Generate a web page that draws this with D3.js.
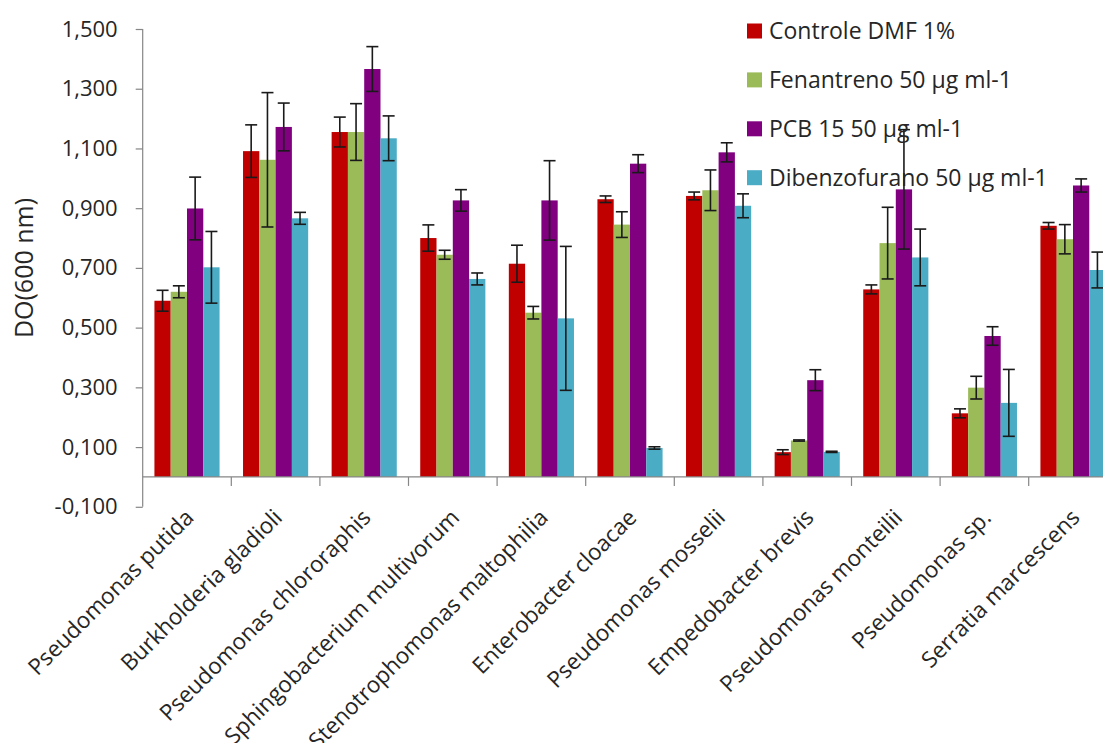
<!DOCTYPE html>
<html lang="pt">
<head>
<meta charset="UTF-8">
<title>DO(600 nm)</title>
<script src="https://d3js.org/d3.v7.min.js"></script>
<style>
  body { margin: 0; background: #fff; }
  text { font-family: "Open Sans", sans-serif; fill: #262626; }
</style>
</head>
<body>
<script>
  // categories and series
  const categories = ["Pseudomonas putida", "Burkholderia gladioli", "Pseudomonas chlororaphis",
    "Sphingobacterium multivorum", "Stenotrophomonas maltophilia", "Enterobacter cloacae",
    "Pseudomonas mosselii", "Empedobacter brevis", "Pseudomonas monteilii",
    "Pseudomonas sp.", "Serratia marcescens"]
  const seriesNames = ["Controle DMF 1%", "Fenantreno 50 µg ml-1", "PCB 15 50 µg ml-1", "Dibenzofurano 50 µg ml-1"]
  const colors = ["#c00000", "#9bbb59", "#800080", "#4bacc6"]

  // mean values per series (same order as categories)
  const controle     = [0.590, 1.091, 1.155, 0.800, 0.714, 0.930, 0.941, 0.083, 0.628, 0.213, 0.841]
  const fenantreno   = [0.620, 1.062, 1.155, 0.744, 0.550, 0.845, 0.960, 0.122, 0.783, 0.299, 0.796]
  const pcb          = [0.899, 1.172, 1.366, 0.926, 0.926, 1.049, 1.087, 0.324, 0.963, 0.472, 0.976]
  const dibenzo      = [0.702, 0.866, 1.134, 0.663, 0.531, 0.097, 0.908, 0.084, 0.735, 0.248, 0.693]

  // error (+/-)
  const controleErr   = [0.035, 0.088, 0.050, 0.044, 0.062, 0.011, 0.013, 0.008, 0.015, 0.015, 0.011]
  const fenantrenoErr = [0.020, 0.225, 0.095, 0.015, 0.021, 0.043, 0.068, 0.002, 0.120, 0.038, 0.049]
  const pcbErr        = [0.105, 0.080, 0.075, 0.036, 0.133, 0.030, 0.032, 0.035, 0.200, 0.031, 0.022]
  const dibenzoErr    = [0.120, 0.020, 0.075, 0.020, 0.241, 0.004, 0.040, 0.002, 0.095, 0.112, 0.060]

  const yTicks = [-0.1, 0.1, 0.3, 0.5, 0.7, 0.9, 1.1, 1.3, 1.5]

  const values = [controle, fenantreno, pcb, dibenzo]
  const errors = [controleErr, fenantrenoErr, pcbErr, dibenzoErr]

  let data = []
  categories.forEach((c, i) => {
    seriesNames.forEach((s, j) => {
      data.push({cat: c, series: s, value: values[j][i], err: errors[j][i], color: colors[j]})
    })
  })

  const W = 1103, H = 743
  const left = 142.7, step = 88.6

  let x = d3.scaleBand()
    .domain(categories)
    .range([left, left + step * categories.length])
    .padding(0)

  let xs = d3.scaleBand()
    .domain(seriesNames)
    .range([0, x.bandwidth()])
    .paddingInner(0)
    .paddingOuter(0.72)

  let y = d3.scaleLinear()
    .domain([-0.1, 1.5])
    .range([506.8, 29])

  let fmt = (d) => d3.format(".3f")(d).replace(".", ",").replace("−", "-")

  let svg = d3.select("body")
    .append("svg")
    .attr("width", W)
    .attr("height", H)

  // bars
  svg.append("g").selectAll("rect")
    .data(data)
    .enter()
      .append("rect")
      .attr("x", (d) => x(d.cat) + xs(d.series))
      .attr("y", (d) => y(d.value))
      .attr("width", xs.bandwidth())
      .attr("height", (d) => y(0) - y(d.value))
      .attr("fill", (d) => d.color)

  // axes
  let yAxis = d3.axisLeft(y)
    .tickValues(yTicks)
    .tickFormat(fmt)
    .tickSize(7)
    .tickPadding(18)

  let gy = svg.append("g")
    .attr("transform", "translate(" + left + ",0)")
    .call(yAxis)
  gy.selectAll("path, line").attr("stroke", "#868686").attr("stroke-width", 1.2)
  gy.select(".domain").attr("d", "M0," + y(-0.1) + "V" + y(1.5))
  gy.selectAll("text")
    .style("font-family", "'Open Sans', sans-serif")
    .style("font-size", "22px")
    .attr("fill", "#262626")

  // category axis at zero
  let gx = svg.append("g")
  gx.append("line")
    .attr("x1", left).attr("x2", W)
    .attr("y1", y(0)).attr("y2", y(0))
    .attr("stroke", "#868686").attr("stroke-width", 1.2)
  gx.selectAll(".tk")
    .data(categories)
    .enter()
      .append("line")
      .attr("x1", (d) => x(d) + step)
      .attr("x2", (d) => x(d) + step)
      .attr("y1", y(0))
      .attr("y2", y(0) + 9)
      .attr("stroke", "#868686").attr("stroke-width", 1.2)

  gx.selectAll(".lbl")
    .data(categories)
    .enter()
      .append("text")
      .attr("text-anchor", "end")
      .attr("transform", (d) => "translate(" + (x(d) + x.bandwidth() / 2 + 8) + "," + 519 + ") rotate(-45)")
      .style("font-size", "22.5px")
      .text((d) => d)

  // error bars
  let eb = svg.append("g")
    .attr("stroke", "#1a1a1a")
    .attr("stroke-width", 1.6)
  let cx = (d) => x(d.cat) + xs(d.series) + xs.bandwidth() / 2
  eb.selectAll(".v")
    .data(data).enter().append("line")
    .attr("x1", cx).attr("x2", cx)
    .attr("y1", (d) => y(d.value + d.err))
    .attr("y2", (d) => y(d.value - d.err))
  eb.selectAll(".t")
    .data(data).enter().append("line")
    .attr("x1", (d) => cx(d) - 6).attr("x2", (d) => cx(d) + 6)
    .attr("y1", (d) => y(d.value + d.err))
    .attr("y2", (d) => y(d.value + d.err))
  eb.selectAll(".b")
    .data(data).enter().append("line")
    .attr("x1", (d) => cx(d) - 6).attr("x2", (d) => cx(d) + 6)
    .attr("y1", (d) => y(d.value - d.err))
    .attr("y2", (d) => y(d.value - d.err))

  // y label
  svg.append("text")
    .attr("transform", "translate(33," + 268 + ") rotate(-90)")
    .attr("text-anchor", "middle")
    .style("font-size", "25px")
    .text("DO(600 nm)")

  // legend
  let legend = svg.append("g")
    .attr("transform", "translate(747,31)")
  let li = legend.selectAll("g")
    .data(seriesNames)
    .enter()
      .append("g")
      .attr("transform", (d, i) => "translate(0," + i * 48.9 + ")")
  li.append("rect")
    .attr("x", 0).attr("y", -7.5)
    .attr("width", 15).attr("height", 15)
    .attr("fill", (d, i) => colors[i])
  li.append("text")
    .attr("x", 22)
    .attr("dy", "0.35em")
    .style("font-size", "23px")
    .text((d) => d)
</script>
</body>
</html>
